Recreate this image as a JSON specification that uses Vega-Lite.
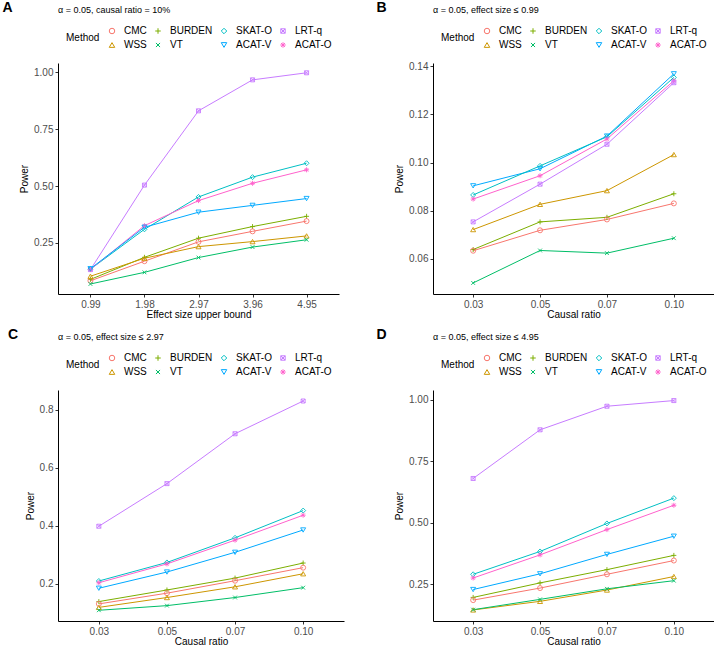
{
  "$schema": "https://vega.github.io/schema/vega-lite/v6.json",
  "padding": {"left": 2, "top": 1, "right": 0, "bottom": 0},
  "config": {
    "font": "Liberation Sans",
    "view": {"stroke": null},
    "axis": {"grid": false, "domainColor": "#000000", "domainWidth": 1, "tickColor": "#333333", "tickSize": 3, "tickWidth": 1, "labelColor": "#4d4d4d", "labelFontSize": 10, "labelFont": "Liberation Sans", "titleFont": "Liberation Sans", "titleFontSize": 10, "titleFontWeight": "normal", "titleColor": "#000000", "labelPadding": 2},
    "axisX": {"titlePadding": 0, "labelAngle": 0},
    "axisY": {"titlePadding": 4},
    "legend": {"labelFontSize": 10, "titleFontSize": 10, "titleFontWeight": "normal", "labelFont": "Liberation Sans", "titleFont": "Liberation Sans", "labelColor": "#000000", "titleColor": "#000000", "direction": "horizontal", "columns": 4, "titleOrient": "left", "titleAnchor": "middle", "titlePadding": 7, "columnPadding": 6, "rowPadding": 4, "symbolSize": 30, "symbolStrokeWidth": 1, "labelOffset": 7},
    "title": {"font": "Liberation Sans", "subtitleFont": "Liberation Sans", "color": "#000000"}
  },
  "data": {"values": [
    {"panel": "A", "x": "0.99", "method": "LRT-q", "power": 0.133},
    {"panel": "A", "x": "1.98", "method": "LRT-q", "power": 0.504},
    {"panel": "A", "x": "2.97", "method": "LRT-q", "power": 0.830},
    {"panel": "A", "x": "3.96", "method": "LRT-q", "power": 0.966},
    {"panel": "A", "x": "4.95", "method": "LRT-q", "power": 0.997},
    {"panel": "A", "x": "0.99", "method": "SKAT-O", "power": 0.135},
    {"panel": "A", "x": "1.98", "method": "SKAT-O", "power": 0.310},
    {"panel": "A", "x": "2.97", "method": "SKAT-O", "power": 0.452},
    {"panel": "A", "x": "3.96", "method": "SKAT-O", "power": 0.539},
    {"panel": "A", "x": "4.95", "method": "SKAT-O", "power": 0.600},
    {"panel": "A", "x": "0.99", "method": "ACAT-O", "power": 0.134},
    {"panel": "A", "x": "1.98", "method": "ACAT-O", "power": 0.326},
    {"panel": "A", "x": "2.97", "method": "ACAT-O", "power": 0.436},
    {"panel": "A", "x": "3.96", "method": "ACAT-O", "power": 0.512},
    {"panel": "A", "x": "4.95", "method": "ACAT-O", "power": 0.571},
    {"panel": "A", "x": "0.99", "method": "ACAT-V", "power": 0.137},
    {"panel": "A", "x": "1.98", "method": "ACAT-V", "power": 0.319},
    {"panel": "A", "x": "2.97", "method": "ACAT-V", "power": 0.385},
    {"panel": "A", "x": "3.96", "method": "ACAT-V", "power": 0.415},
    {"panel": "A", "x": "4.95", "method": "ACAT-V", "power": 0.445},
    {"panel": "A", "x": "0.99", "method": "BURDEN", "power": 0.090},
    {"panel": "A", "x": "1.98", "method": "BURDEN", "power": 0.187},
    {"panel": "A", "x": "2.97", "method": "BURDEN", "power": 0.271},
    {"panel": "A", "x": "3.96", "method": "BURDEN", "power": 0.322},
    {"panel": "A", "x": "4.95", "method": "BURDEN", "power": 0.367},
    {"panel": "A", "x": "0.99", "method": "CMC", "power": 0.084},
    {"panel": "A", "x": "1.98", "method": "CMC", "power": 0.170},
    {"panel": "A", "x": "2.97", "method": "CMC", "power": 0.255},
    {"panel": "A", "x": "3.96", "method": "CMC", "power": 0.301},
    {"panel": "A", "x": "4.95", "method": "CMC", "power": 0.346},
    {"panel": "A", "x": "0.99", "method": "WSS", "power": 0.104},
    {"panel": "A", "x": "1.98", "method": "WSS", "power": 0.183},
    {"panel": "A", "x": "2.97", "method": "WSS", "power": 0.234},
    {"panel": "A", "x": "3.96", "method": "WSS", "power": 0.256},
    {"panel": "A", "x": "4.95", "method": "WSS", "power": 0.281},
    {"panel": "A", "x": "0.99", "method": "VT", "power": 0.070},
    {"panel": "A", "x": "1.98", "method": "VT", "power": 0.121},
    {"panel": "A", "x": "2.97", "method": "VT", "power": 0.186},
    {"panel": "A", "x": "3.96", "method": "VT", "power": 0.232},
    {"panel": "A", "x": "4.95", "method": "VT", "power": 0.264},

    {"panel": "B", "x": "0.03", "method": "ACAT-V", "power": 0.0903},
    {"panel": "B", "x": "0.05", "method": "ACAT-V", "power": 0.0974},
    {"panel": "B", "x": "0.07", "method": "ACAT-V", "power": 0.1110},
    {"panel": "B", "x": "0.10", "method": "ACAT-V", "power": 0.1369},
    {"panel": "B", "x": "0.03", "method": "SKAT-O", "power": 0.0865},
    {"panel": "B", "x": "0.05", "method": "SKAT-O", "power": 0.0986},
    {"panel": "B", "x": "0.07", "method": "SKAT-O", "power": 0.1107},
    {"panel": "B", "x": "0.10", "method": "SKAT-O", "power": 0.1354},
    {"panel": "B", "x": "0.03", "method": "ACAT-O", "power": 0.0848},
    {"panel": "B", "x": "0.05", "method": "ACAT-O", "power": 0.0945},
    {"panel": "B", "x": "0.07", "method": "ACAT-O", "power": 0.1098},
    {"panel": "B", "x": "0.10", "method": "ACAT-O", "power": 0.1340},
    {"panel": "B", "x": "0.03", "method": "LRT-q", "power": 0.0753},
    {"panel": "B", "x": "0.05", "method": "LRT-q", "power": 0.0910},
    {"panel": "B", "x": "0.07", "method": "LRT-q", "power": 0.1076},
    {"panel": "B", "x": "0.10", "method": "LRT-q", "power": 0.1332},
    {"panel": "B", "x": "0.03", "method": "WSS", "power": 0.0721},
    {"panel": "B", "x": "0.05", "method": "WSS", "power": 0.0826},
    {"panel": "B", "x": "0.07", "method": "WSS", "power": 0.0883},
    {"panel": "B", "x": "0.10", "method": "WSS", "power": 0.1033},
    {"panel": "B", "x": "0.03", "method": "BURDEN", "power": 0.0638},
    {"panel": "B", "x": "0.05", "method": "BURDEN", "power": 0.0753},
    {"panel": "B", "x": "0.07", "method": "BURDEN", "power": 0.0772},
    {"panel": "B", "x": "0.10", "method": "BURDEN", "power": 0.0870},
    {"panel": "B", "x": "0.03", "method": "CMC", "power": 0.0633},
    {"panel": "B", "x": "0.05", "method": "CMC", "power": 0.0718},
    {"panel": "B", "x": "0.07", "method": "CMC", "power": 0.0763},
    {"panel": "B", "x": "0.10", "method": "CMC", "power": 0.0830},
    {"panel": "B", "x": "0.03", "method": "VT", "power": 0.0499},
    {"panel": "B", "x": "0.05", "method": "VT", "power": 0.0634},
    {"panel": "B", "x": "0.07", "method": "VT", "power": 0.0623},
    {"panel": "B", "x": "0.10", "method": "VT", "power": 0.0685},

    {"panel": "C", "x": "0.03", "method": "LRT-q", "power": 0.398},
    {"panel": "C", "x": "0.05", "method": "LRT-q", "power": 0.545},
    {"panel": "C", "x": "0.07", "method": "LRT-q", "power": 0.717},
    {"panel": "C", "x": "0.10", "method": "LRT-q", "power": 0.830},
    {"panel": "C", "x": "0.03", "method": "SKAT-O", "power": 0.209},
    {"panel": "C", "x": "0.05", "method": "SKAT-O", "power": 0.273},
    {"panel": "C", "x": "0.07", "method": "SKAT-O", "power": 0.358},
    {"panel": "C", "x": "0.10", "method": "SKAT-O", "power": 0.452},
    {"panel": "C", "x": "0.03", "method": "ACAT-O", "power": 0.203},
    {"panel": "C", "x": "0.05", "method": "ACAT-O", "power": 0.268},
    {"panel": "C", "x": "0.07", "method": "ACAT-O", "power": 0.350},
    {"panel": "C", "x": "0.10", "method": "ACAT-O", "power": 0.436},
    {"panel": "C", "x": "0.03", "method": "ACAT-V", "power": 0.184},
    {"panel": "C", "x": "0.05", "method": "ACAT-V", "power": 0.240},
    {"panel": "C", "x": "0.07", "method": "ACAT-V", "power": 0.308},
    {"panel": "C", "x": "0.10", "method": "ACAT-V", "power": 0.385},
    {"panel": "C", "x": "0.03", "method": "BURDEN", "power": 0.138},
    {"panel": "C", "x": "0.05", "method": "BURDEN", "power": 0.178},
    {"panel": "C", "x": "0.07", "method": "BURDEN", "power": 0.219},
    {"panel": "C", "x": "0.10", "method": "BURDEN", "power": 0.271},
    {"panel": "C", "x": "0.03", "method": "CMC", "power": 0.130},
    {"panel": "C", "x": "0.05", "method": "CMC", "power": 0.167},
    {"panel": "C", "x": "0.07", "method": "CMC", "power": 0.210},
    {"panel": "C", "x": "0.10", "method": "CMC", "power": 0.255},
    {"panel": "C", "x": "0.03", "method": "WSS", "power": 0.118},
    {"panel": "C", "x": "0.05", "method": "WSS", "power": 0.152},
    {"panel": "C", "x": "0.07", "method": "WSS", "power": 0.189},
    {"panel": "C", "x": "0.10", "method": "WSS", "power": 0.234},
    {"panel": "C", "x": "0.03", "method": "VT", "power": 0.108},
    {"panel": "C", "x": "0.05", "method": "VT", "power": 0.124},
    {"panel": "C", "x": "0.07", "method": "VT", "power": 0.152},
    {"panel": "C", "x": "0.10", "method": "VT", "power": 0.186},

    {"panel": "D", "x": "0.03", "method": "LRT-q", "power": 0.680},
    {"panel": "D", "x": "0.05", "method": "LRT-q", "power": 0.878},
    {"panel": "D", "x": "0.07", "method": "LRT-q", "power": 0.974},
    {"panel": "D", "x": "0.10", "method": "LRT-q", "power": 0.997},
    {"panel": "D", "x": "0.03", "method": "SKAT-O", "power": 0.290},
    {"panel": "D", "x": "0.05", "method": "SKAT-O", "power": 0.383},
    {"panel": "D", "x": "0.07", "method": "SKAT-O", "power": 0.497},
    {"panel": "D", "x": "0.10", "method": "SKAT-O", "power": 0.600},
    {"panel": "D", "x": "0.03", "method": "ACAT-O", "power": 0.275},
    {"panel": "D", "x": "0.05", "method": "ACAT-O", "power": 0.369},
    {"panel": "D", "x": "0.07", "method": "ACAT-O", "power": 0.472},
    {"panel": "D", "x": "0.10", "method": "ACAT-O", "power": 0.571},
    {"panel": "D", "x": "0.03", "method": "ACAT-V", "power": 0.228},
    {"panel": "D", "x": "0.05", "method": "ACAT-V", "power": 0.292},
    {"panel": "D", "x": "0.07", "method": "ACAT-V", "power": 0.371},
    {"panel": "D", "x": "0.10", "method": "ACAT-V", "power": 0.445},
    {"panel": "D", "x": "0.03", "method": "BURDEN", "power": 0.196},
    {"panel": "D", "x": "0.05", "method": "BURDEN", "power": 0.255},
    {"panel": "D", "x": "0.07", "method": "BURDEN", "power": 0.309},
    {"panel": "D", "x": "0.10", "method": "BURDEN", "power": 0.367},
    {"panel": "D", "x": "0.03", "method": "CMC", "power": 0.185},
    {"panel": "D", "x": "0.05", "method": "CMC", "power": 0.234},
    {"panel": "D", "x": "0.07", "method": "CMC", "power": 0.290},
    {"panel": "D", "x": "0.10", "method": "CMC", "power": 0.346},
    {"panel": "D", "x": "0.03", "method": "WSS", "power": 0.145},
    {"panel": "D", "x": "0.05", "method": "WSS", "power": 0.180},
    {"panel": "D", "x": "0.07", "method": "WSS", "power": 0.226},
    {"panel": "D", "x": "0.10", "method": "WSS", "power": 0.281},
    {"panel": "D", "x": "0.03", "method": "VT", "power": 0.146},
    {"panel": "D", "x": "0.05", "method": "VT", "power": 0.188},
    {"panel": "D", "x": "0.07", "method": "VT", "power": 0.231},
    {"panel": "D", "x": "0.10", "method": "VT", "power": 0.264}
  ]},
  "resolve": {"scale": {"color": "independent", "shape": "independent", "x": "independent", "y": "independent"}},
  "columns": 1,
  "align": "none",
  "spacing": 9,
  "concat": [
    {
      "spacing": 37,
      "resolve": {"scale": {"color": "independent", "shape": "independent", "x": "independent", "y": "independent"}},
      "hconcat": [
        {
          "title": {"text": "A", "anchor": "start", "fontSize": 14, "fontWeight": "bold", "offset": -9, "dx": -17},
          "resolve": {"scale": {"color": "independent", "shape": "independent", "x": "independent", "y": "independent"}},
          "vconcat": [
            {
              "width": 281, "height": 231,
              "title": {"text": "α = 0.05, causal ratio = 10%", "anchor": "start", "frame": "group", "fontSize": 9, "fontWeight": "normal", "offset": 11},
              "transform": [{"filter": "datum.panel === 'A'"}],
              "encoding": {
                "x": {"field": "x", "type": "ordinal", "scale": {"type": "point", "padding": 0.6}, "axis": {"title": "Effect size upper bound"}},
                "y": {"field": "power", "type": "quantitative", "scale": {"domain": [0.026, 1.04], "zero": false, "nice": false}, "axis": {"title": "Power", "values": [0.25, 0.5, 0.75, 1.0], "format": ".2f"}},
                "color": {"field": "method", "type": "nominal", "title": "Method",
                  "scale": {"domain": ["CMC", "BURDEN", "SKAT-O", "LRT-q", "WSS", "VT", "ACAT-V", "ACAT-O"], "range": ["#F8766D", "#7CAE00", "#00BFC4", "#C77CFF", "#CD9600", "#00BE67", "#00A9FF", "#FF61CC"]},
                  "legend": {"orient": "none", "legendX": 8, "legendY": -37, "encode": {"symbols": {"update": {"shape": {"signal": "datum.value === 'CMC' ? 'M-2.4,0L2.4,0M1,0A1,1 0 1,1 -1,0A1,1 0 1,1 1,0' : datum.value === 'BURDEN' ? 'M-2.4,0L2.4,0M0,-1L0,1' : datum.value === 'SKAT-O' ? 'M-2.4,0L2.4,0M0,-1.1L1.1,0L0,1.1L-1.1,0Z' : datum.value === 'LRT-q' ? 'M-2.4,0L2.4,0M-0.8,-0.8L0.8,-0.8L0.8,0.8L-0.8,0.8ZM-0.8,-0.8L0.8,0.8M-0.8,0.8L0.8,-0.8' : datum.value === 'WSS' ? 'M-2.4,0L2.4,0M0,-1L1,0.75L-1,0.75Z' : datum.value === 'VT' ? 'M-2.4,0L2.4,0M-0.75,-0.75L0.75,0.75M-0.75,0.75L0.75,-0.75' : datum.value === 'ACAT-V' ? 'M-2.4,0L2.4,0M0,1L1,-0.75L-1,-0.75Z' : 'M-2.4,0L2.4,0M0,-1L0,1M-0.7,-0.7L0.7,0.7M-0.7,0.7L0.7,-0.7'"}}}}}}
              },
              "layer": [
                {"mark": {"type": "line", "strokeWidth": 1}},
                {"mark": {"type": "point", "filled": false, "size": 25, "strokeWidth": 0.9, "opacity": 1},
                 "encoding": {"shape": {"field": "method", "type": "nominal", "title": "Method",
                   "scale": {"domain": ["CMC", "BURDEN", "SKAT-O", "LRT-q", "WSS", "VT", "ACAT-V", "ACAT-O"], "range": ["circle", "M-1,0L1,0M0,-1L0,1", "diamond", "M-0.8,-0.8L0.8,-0.8L0.8,0.8L-0.8,0.8Z M-0.8,-0.8L0.8,0.8M-0.8,0.8L0.8,-0.8", "triangle-up", "M-0.75,-0.75L0.75,0.75M-0.75,0.75L0.75,-0.75", "triangle-down", "M-1,0L1,0M0,-1L0,1M-0.7,-0.7L0.7,0.7M-0.7,0.7L0.7,-0.7"]},
                   "legend": {"orient": "none", "legendX": 8, "legendY": -37, "encode": {"symbols": {"update": {"shape": {"signal": "datum.value === 'CMC' ? 'M-2.4,0L2.4,0M1,0A1,1 0 1,1 -1,0A1,1 0 1,1 1,0' : datum.value === 'BURDEN' ? 'M-2.4,0L2.4,0M0,-1L0,1' : datum.value === 'SKAT-O' ? 'M-2.4,0L2.4,0M0,-1.1L1.1,0L0,1.1L-1.1,0Z' : datum.value === 'LRT-q' ? 'M-2.4,0L2.4,0M-0.8,-0.8L0.8,-0.8L0.8,0.8L-0.8,0.8ZM-0.8,-0.8L0.8,0.8M-0.8,0.8L0.8,-0.8' : datum.value === 'WSS' ? 'M-2.4,0L2.4,0M0,-1L1,0.75L-1,0.75Z' : datum.value === 'VT' ? 'M-2.4,0L2.4,0M-0.75,-0.75L0.75,0.75M-0.75,0.75L0.75,-0.75' : datum.value === 'ACAT-V' ? 'M-2.4,0L2.4,0M0,1L1,-0.75L-1,-0.75Z' : 'M-2.4,0L2.4,0M0,-1L0,1M-0.7,-0.7L0.7,0.7M-0.7,0.7L0.7,-0.7'"}}}}}}}}
              ]
            }
          ]
        },
        {
          "title": {"text": "B", "anchor": "start", "fontSize": 14, "fontWeight": "bold", "offset": -9, "dx": -18},
          "resolve": {"scale": {"color": "independent", "shape": "independent", "x": "independent", "y": "independent"}},
          "vconcat": [
            {
              "width": 281, "height": 231,
              "title": {"text": "α = 0.05, effect size ≤ 0.99", "anchor": "start", "frame": "group", "fontSize": 9, "fontWeight": "normal", "offset": 11},
              "transform": [{"filter": "datum.panel === 'B'"}],
              "encoding": {
                "x": {"field": "x", "type": "ordinal", "scale": {"type": "point", "padding": 0.6}, "axis": {"title": "Causal ratio"}},
                "y": {"field": "power", "type": "quantitative", "scale": {"domain": [0.0453, 0.1414], "zero": false, "nice": false}, "axis": {"title": "Power", "values": [0.06, 0.08, 0.10, 0.12, 0.14], "format": ".2f"}},
                "color": {"field": "method", "type": "nominal", "title": "Method",
                  "scale": {"domain": ["CMC", "BURDEN", "SKAT-O", "LRT-q", "WSS", "VT", "ACAT-V", "ACAT-O"], "range": ["#F8766D", "#7CAE00", "#00BFC4", "#C77CFF", "#CD9600", "#00BE67", "#00A9FF", "#FF61CC"]},
                  "legend": {"orient": "none", "legendX": 8, "legendY": -37, "encode": {"symbols": {"update": {"shape": {"signal": "datum.value === 'CMC' ? 'M-2.4,0L2.4,0M1,0A1,1 0 1,1 -1,0A1,1 0 1,1 1,0' : datum.value === 'BURDEN' ? 'M-2.4,0L2.4,0M0,-1L0,1' : datum.value === 'SKAT-O' ? 'M-2.4,0L2.4,0M0,-1.1L1.1,0L0,1.1L-1.1,0Z' : datum.value === 'LRT-q' ? 'M-2.4,0L2.4,0M-0.8,-0.8L0.8,-0.8L0.8,0.8L-0.8,0.8ZM-0.8,-0.8L0.8,0.8M-0.8,0.8L0.8,-0.8' : datum.value === 'WSS' ? 'M-2.4,0L2.4,0M0,-1L1,0.75L-1,0.75Z' : datum.value === 'VT' ? 'M-2.4,0L2.4,0M-0.75,-0.75L0.75,0.75M-0.75,0.75L0.75,-0.75' : datum.value === 'ACAT-V' ? 'M-2.4,0L2.4,0M0,1L1,-0.75L-1,-0.75Z' : 'M-2.4,0L2.4,0M0,-1L0,1M-0.7,-0.7L0.7,0.7M-0.7,0.7L0.7,-0.7'"}}}}}}
              },
              "layer": [
                {"mark": {"type": "line", "strokeWidth": 1}},
                {"mark": {"type": "point", "filled": false, "size": 25, "strokeWidth": 0.9, "opacity": 1},
                 "encoding": {"shape": {"field": "method", "type": "nominal", "title": "Method",
                   "scale": {"domain": ["CMC", "BURDEN", "SKAT-O", "LRT-q", "WSS", "VT", "ACAT-V", "ACAT-O"], "range": ["circle", "M-1,0L1,0M0,-1L0,1", "diamond", "M-0.8,-0.8L0.8,-0.8L0.8,0.8L-0.8,0.8Z M-0.8,-0.8L0.8,0.8M-0.8,0.8L0.8,-0.8", "triangle-up", "M-0.75,-0.75L0.75,0.75M-0.75,0.75L0.75,-0.75", "triangle-down", "M-1,0L1,0M0,-1L0,1M-0.7,-0.7L0.7,0.7M-0.7,0.7L0.7,-0.7"]},
                   "legend": {"orient": "none", "legendX": 8, "legendY": -37, "encode": {"symbols": {"update": {"shape": {"signal": "datum.value === 'CMC' ? 'M-2.4,0L2.4,0M1,0A1,1 0 1,1 -1,0A1,1 0 1,1 1,0' : datum.value === 'BURDEN' ? 'M-2.4,0L2.4,0M0,-1L0,1' : datum.value === 'SKAT-O' ? 'M-2.4,0L2.4,0M0,-1.1L1.1,0L0,1.1L-1.1,0Z' : datum.value === 'LRT-q' ? 'M-2.4,0L2.4,0M-0.8,-0.8L0.8,-0.8L0.8,0.8L-0.8,0.8ZM-0.8,-0.8L0.8,0.8M-0.8,0.8L0.8,-0.8' : datum.value === 'WSS' ? 'M-2.4,0L2.4,0M0,-1L1,0.75L-1,0.75Z' : datum.value === 'VT' ? 'M-2.4,0L2.4,0M-0.75,-0.75L0.75,0.75M-0.75,0.75L0.75,-0.75' : datum.value === 'ACAT-V' ? 'M-2.4,0L2.4,0M0,1L1,-0.75L-1,-0.75Z' : 'M-2.4,0L2.4,0M0,-1L0,1M-0.7,-0.7L0.7,0.7M-0.7,0.7L0.7,-0.7'"}}}}}}}}
              ]
            }
          ]
        }
      ]
    },
    {
      "spacing": 32,
      "resolve": {"scale": {"color": "independent", "shape": "independent", "x": "independent", "y": "independent"}},
      "hconcat": [
        {
          "title": {"text": "C", "anchor": "start", "fontSize": 14, "fontWeight": "bold", "offset": -9, "dx": -17},
          "resolve": {"scale": {"color": "independent", "shape": "independent", "x": "independent", "y": "independent"}},
          "vconcat": [
            {
              "width": 286, "height": 231,
              "title": {"text": "α = 0.05, effect size ≤ 2.97", "anchor": "start", "frame": "group", "fontSize": 9, "fontWeight": "normal", "offset": 11},
              "transform": [{"filter": "datum.panel === 'C'"}],
              "encoding": {
                "x": {"field": "x", "type": "ordinal", "scale": {"type": "point", "padding": 0.6}, "axis": {"title": "Causal ratio"}},
                "y": {"field": "power", "type": "quantitative", "scale": {"domain": [0.071, 0.868], "zero": false, "nice": false}, "axis": {"title": "Power", "values": [0.2, 0.4, 0.6, 0.8], "format": ".1f"}},
                "color": {"field": "method", "type": "nominal", "title": "Method",
                  "scale": {"domain": ["CMC", "BURDEN", "SKAT-O", "LRT-q", "WSS", "VT", "ACAT-V", "ACAT-O"], "range": ["#F8766D", "#7CAE00", "#00BFC4", "#C77CFF", "#CD9600", "#00BE67", "#00A9FF", "#FF61CC"]},
                  "legend": {"orient": "none", "legendX": 8, "legendY": -37, "encode": {"symbols": {"update": {"shape": {"signal": "datum.value === 'CMC' ? 'M-2.4,0L2.4,0M1,0A1,1 0 1,1 -1,0A1,1 0 1,1 1,0' : datum.value === 'BURDEN' ? 'M-2.4,0L2.4,0M0,-1L0,1' : datum.value === 'SKAT-O' ? 'M-2.4,0L2.4,0M0,-1.1L1.1,0L0,1.1L-1.1,0Z' : datum.value === 'LRT-q' ? 'M-2.4,0L2.4,0M-0.8,-0.8L0.8,-0.8L0.8,0.8L-0.8,0.8ZM-0.8,-0.8L0.8,0.8M-0.8,0.8L0.8,-0.8' : datum.value === 'WSS' ? 'M-2.4,0L2.4,0M0,-1L1,0.75L-1,0.75Z' : datum.value === 'VT' ? 'M-2.4,0L2.4,0M-0.75,-0.75L0.75,0.75M-0.75,0.75L0.75,-0.75' : datum.value === 'ACAT-V' ? 'M-2.4,0L2.4,0M0,1L1,-0.75L-1,-0.75Z' : 'M-2.4,0L2.4,0M0,-1L0,1M-0.7,-0.7L0.7,0.7M-0.7,0.7L0.7,-0.7'"}}}}}}
              },
              "layer": [
                {"mark": {"type": "line", "strokeWidth": 1}},
                {"mark": {"type": "point", "filled": false, "size": 25, "strokeWidth": 0.9, "opacity": 1},
                 "encoding": {"shape": {"field": "method", "type": "nominal", "title": "Method",
                   "scale": {"domain": ["CMC", "BURDEN", "SKAT-O", "LRT-q", "WSS", "VT", "ACAT-V", "ACAT-O"], "range": ["circle", "M-1,0L1,0M0,-1L0,1", "diamond", "M-0.8,-0.8L0.8,-0.8L0.8,0.8L-0.8,0.8Z M-0.8,-0.8L0.8,0.8M-0.8,0.8L0.8,-0.8", "triangle-up", "M-0.75,-0.75L0.75,0.75M-0.75,0.75L0.75,-0.75", "triangle-down", "M-1,0L1,0M0,-1L0,1M-0.7,-0.7L0.7,0.7M-0.7,0.7L0.7,-0.7"]},
                   "legend": {"orient": "none", "legendX": 8, "legendY": -37, "encode": {"symbols": {"update": {"shape": {"signal": "datum.value === 'CMC' ? 'M-2.4,0L2.4,0M1,0A1,1 0 1,1 -1,0A1,1 0 1,1 1,0' : datum.value === 'BURDEN' ? 'M-2.4,0L2.4,0M0,-1L0,1' : datum.value === 'SKAT-O' ? 'M-2.4,0L2.4,0M0,-1.1L1.1,0L0,1.1L-1.1,0Z' : datum.value === 'LRT-q' ? 'M-2.4,0L2.4,0M-0.8,-0.8L0.8,-0.8L0.8,0.8L-0.8,0.8ZM-0.8,-0.8L0.8,0.8M-0.8,0.8L0.8,-0.8' : datum.value === 'WSS' ? 'M-2.4,0L2.4,0M0,-1L1,0.75L-1,0.75Z' : datum.value === 'VT' ? 'M-2.4,0L2.4,0M-0.75,-0.75L0.75,0.75M-0.75,0.75L0.75,-0.75' : datum.value === 'ACAT-V' ? 'M-2.4,0L2.4,0M0,1L1,-0.75L-1,-0.75Z' : 'M-2.4,0L2.4,0M0,-1L0,1M-0.7,-0.7L0.7,0.7M-0.7,0.7L0.7,-0.7'"}}}}}}}}
              ]
            }
          ]
        },
        {
          "title": {"text": "D", "anchor": "start", "fontSize": 14, "fontWeight": "bold", "offset": -9, "dx": -18},
          "resolve": {"scale": {"color": "independent", "shape": "independent", "x": "independent", "y": "independent"}},
          "vconcat": [
            {
              "width": 281, "height": 231,
              "title": {"text": "α = 0.05, effect size ≤ 4.95", "anchor": "start", "frame": "group", "fontSize": 9, "fontWeight": "normal", "offset": 11},
              "transform": [{"filter": "datum.panel === 'D'"}],
              "encoding": {
                "x": {"field": "x", "type": "ordinal", "scale": {"type": "point", "padding": 0.6}, "axis": {"title": "Causal ratio"}},
                "y": {"field": "power", "type": "quantitative", "scale": {"domain": [0.1, 1.04], "zero": false, "nice": false}, "axis": {"title": "Power", "values": [0.25, 0.5, 0.75, 1.0], "format": ".2f"}},
                "color": {"field": "method", "type": "nominal", "title": "Method",
                  "scale": {"domain": ["CMC", "BURDEN", "SKAT-O", "LRT-q", "WSS", "VT", "ACAT-V", "ACAT-O"], "range": ["#F8766D", "#7CAE00", "#00BFC4", "#C77CFF", "#CD9600", "#00BE67", "#00A9FF", "#FF61CC"]},
                  "legend": {"orient": "none", "legendX": 8, "legendY": -37, "encode": {"symbols": {"update": {"shape": {"signal": "datum.value === 'CMC' ? 'M-2.4,0L2.4,0M1,0A1,1 0 1,1 -1,0A1,1 0 1,1 1,0' : datum.value === 'BURDEN' ? 'M-2.4,0L2.4,0M0,-1L0,1' : datum.value === 'SKAT-O' ? 'M-2.4,0L2.4,0M0,-1.1L1.1,0L0,1.1L-1.1,0Z' : datum.value === 'LRT-q' ? 'M-2.4,0L2.4,0M-0.8,-0.8L0.8,-0.8L0.8,0.8L-0.8,0.8ZM-0.8,-0.8L0.8,0.8M-0.8,0.8L0.8,-0.8' : datum.value === 'WSS' ? 'M-2.4,0L2.4,0M0,-1L1,0.75L-1,0.75Z' : datum.value === 'VT' ? 'M-2.4,0L2.4,0M-0.75,-0.75L0.75,0.75M-0.75,0.75L0.75,-0.75' : datum.value === 'ACAT-V' ? 'M-2.4,0L2.4,0M0,1L1,-0.75L-1,-0.75Z' : 'M-2.4,0L2.4,0M0,-1L0,1M-0.7,-0.7L0.7,0.7M-0.7,0.7L0.7,-0.7'"}}}}}}
              },
              "layer": [
                {"mark": {"type": "line", "strokeWidth": 1}},
                {"mark": {"type": "point", "filled": false, "size": 25, "strokeWidth": 0.9, "opacity": 1},
                 "encoding": {"shape": {"field": "method", "type": "nominal", "title": "Method",
                   "scale": {"domain": ["CMC", "BURDEN", "SKAT-O", "LRT-q", "WSS", "VT", "ACAT-V", "ACAT-O"], "range": ["circle", "M-1,0L1,0M0,-1L0,1", "diamond", "M-0.8,-0.8L0.8,-0.8L0.8,0.8L-0.8,0.8Z M-0.8,-0.8L0.8,0.8M-0.8,0.8L0.8,-0.8", "triangle-up", "M-0.75,-0.75L0.75,0.75M-0.75,0.75L0.75,-0.75", "triangle-down", "M-1,0L1,0M0,-1L0,1M-0.7,-0.7L0.7,0.7M-0.7,0.7L0.7,-0.7"]},
                   "legend": {"orient": "none", "legendX": 8, "legendY": -37, "encode": {"symbols": {"update": {"shape": {"signal": "datum.value === 'CMC' ? 'M-2.4,0L2.4,0M1,0A1,1 0 1,1 -1,0A1,1 0 1,1 1,0' : datum.value === 'BURDEN' ? 'M-2.4,0L2.4,0M0,-1L0,1' : datum.value === 'SKAT-O' ? 'M-2.4,0L2.4,0M0,-1.1L1.1,0L0,1.1L-1.1,0Z' : datum.value === 'LRT-q' ? 'M-2.4,0L2.4,0M-0.8,-0.8L0.8,-0.8L0.8,0.8L-0.8,0.8ZM-0.8,-0.8L0.8,0.8M-0.8,0.8L0.8,-0.8' : datum.value === 'WSS' ? 'M-2.4,0L2.4,0M0,-1L1,0.75L-1,0.75Z' : datum.value === 'VT' ? 'M-2.4,0L2.4,0M-0.75,-0.75L0.75,0.75M-0.75,0.75L0.75,-0.75' : datum.value === 'ACAT-V' ? 'M-2.4,0L2.4,0M0,1L1,-0.75L-1,-0.75Z' : 'M-2.4,0L2.4,0M0,-1L0,1M-0.7,-0.7L0.7,0.7M-0.7,0.7L0.7,-0.7'"}}}}}}}}
              ]
            }
          ]
        }
      ]
    }
  ]
}
